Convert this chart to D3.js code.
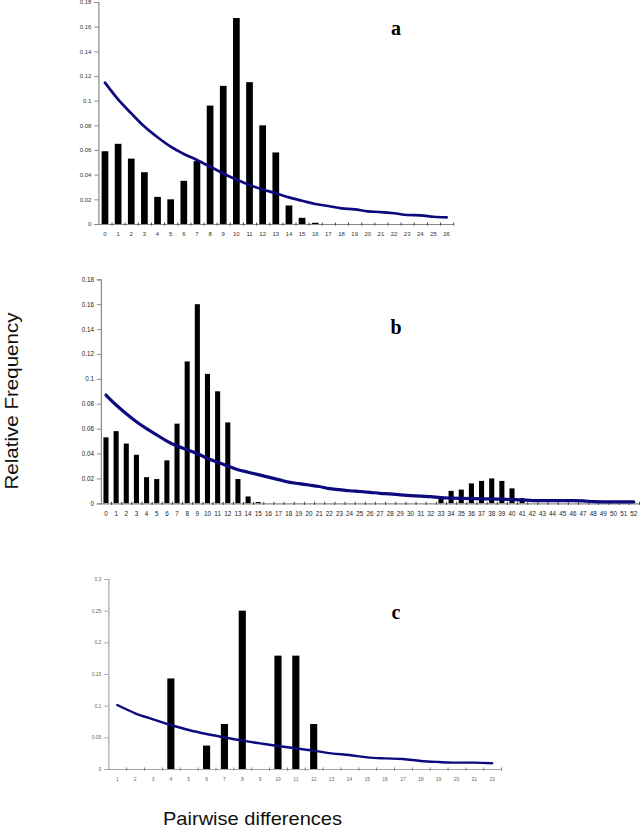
<!DOCTYPE html>
<html><head><meta charset="utf-8">
<script src="https://cdn.jsdelivr.net/npm/d3@7"></script>
<style>html,body{margin:0;padding:0;background:#fff;}svg{display:block;}</style>
</head><body>
<script>
// ---------- DATA ----------
const catsA = d3.range(0, 27);
const barsA = [0.059,0.065,0.053,0.042,0.022,0.020,0.035,0.051,0.096,0.112,0.167,0.115,0.080,0.058,0.015,0.005,0.001,0,0,0,0,0,0,0,0,0,0];
const curveA = [0.1146,0.101,0.0897,0.079,0.0703,0.0627,0.0568,0.0519,0.0465,0.041,0.036,0.0316,0.028,0.0249,0.0216,0.0189,0.0162,0.0146,0.0127,0.0119,0.0103,0.0097,0.0087,0.0073,0.0070,0.0059,0.0054];
const ticksA = [0,0.02,0.04,0.06,0.08,0.1,0.12,0.14,0.16,0.18];

const catsB = d3.range(0, 53);
const barsB = [0.053,0.058,0.048,0.039,0.021,0.0195,0.0345,0.064,0.114,0.160,0.104,0.090,0.065,0.0195,0.0055,0.001,
  0,0,0,0,0,0,0,0,0,0,0,0,0,0,0,0,0,
  0.004,0.010,0.011,0.016,0.018,0.020,0.018,0.012,0.004,
  0,0,0,0,0,0,0,0,0,0,0];
const curveB = [0.087,0.079,0.072,0.0656,0.060,0.055,0.050,0.046,0.043,0.040,0.036,0.033,0.030,0.027,0.025,0.023,0.021,0.019,0.017,0.0158,0.0147,0.0135,0.0118,0.011,0.0101,0.0095,0.0088,0.008,0.0075,0.0068,0.0062,0.0057,0.0053,0.0045,0.0042,0.0040,0.0038,0.0036,0.0035,0.0033,0.0030,0.0027,0.0022,0.0021,0.0021,0.0021,0.0021,0.0020,0.0013,0.0012,0.0012,0.0012,0.0012];
const ticksB = [0,0.02,0.04,0.06,0.08,0.1,0.12,0.14,0.16,0.18];

const catsC = d3.range(1, 23);
const barsC = [0,0,0,0.143,0,0.037,0.071,0.25,0,0.179,0.179,0.071,0,0,0,0,0,0,0,0,0,0];
const curveC = [0.101,0.088,0.0785,0.0695,0.0616,0.0553,0.050,0.0447,0.0405,0.0363,0.0326,0.029,0.0247,0.0221,0.0184,0.0168,0.0158,0.0126,0.011,0.010,0.010,0.009];
const ticksC = [0,0.05,0.1,0.15,0.2,0.25,0.3];

const letters = ["a","b","c"];

// ---------- LAYOUT ----------
const W = 640, H = 829;
const svg = d3.select("body").append("svg").attr("width", W).attr("height", H);

const panels = [
  {cats: catsA, bars: barsA, curve: curveA, ticks: ticksA, x0: 98.4, x1: 453.2, y0: 224, y1: 2, ymax: 0.18,
   pad: 0.49, axisCol: "#8a8a8a", labCol: "#333", fs: 6, lw: 2.7, letter: letters[0], lx: 396, ly: 35},
  {cats: catsB, bars: barsB, curve: curveB, ticks: ticksB, x0: 100.9, x1: 638.9, y0: 503.3, y1: 279.3, ymax: 0.18,
   pad: 0.5, axisCol: "#8a8a8a", labCol: "#222", fs: 6.3, lw: 3.2, letter: letters[1], lx: 396, ly: 334},
  {cats: catsC, bars: barsC, curve: curveC, ticks: ticksC, x0: 108.4, x1: 501.1, y0: 769, y1: 579, ymax: 0.3,
   pad: 0.6, axisCol: "#a8a8a8", labCol: "#666", fs: 5, lw: 2.4, letter: letters[2], lx: 396, ly: 619}
];

panels.forEach(p => {
  const g = svg.append("g");
  const x = d3.scaleBand().domain(p.cats).range([p.x0, p.x1]).paddingInner(p.pad).paddingOuter(p.pad/2);
  const xEdge = d3.scaleLinear().domain([0, p.cats.length]).range([p.x0, p.x1]);
  const y = d3.scaleLinear().domain([0, p.ymax]).range([p.y0, p.y1]);

  // y axis
  const ya = g.append("g").attr("transform", `translate(${p.x0},0)`)
    .call(d3.axisLeft(y).tickValues(p.ticks).tickSize(4).tickPadding(3).tickFormat(d => d3.format("")(+d.toFixed(2))));
  ya.select(".domain").attr("stroke", p.axisCol).attr("stroke-width", 1.2);
  ya.selectAll(".tick line").attr("stroke", p.axisCol);
  ya.selectAll(".tick text").attr("font-family", "Liberation Sans, Arial, sans-serif").attr("font-size", p.fs).attr("fill", p.labCol);

  // bars
  g.selectAll("rect.bar").data(p.cats.map((c, i) => ({c, v: p.bars[i]})).filter(d => d.v > 0))
    .enter().append("rect")
    .attr("x", d => x(d.c)).attr("width", x.bandwidth())
    .attr("y", d => y(d.v)).attr("height", d => p.y0 - y(d.v))
    .attr("fill", "#000");

  // x axis (labels)
  const xa = g.append("g").attr("transform", `translate(0,${p.y0})`)
    .call(d3.axisBottom(x).tickSize(0).tickPadding(8));
  xa.select(".domain").attr("stroke", p.axisCol).attr("stroke-width", 1.2);
  xa.selectAll(".tick text").attr("font-family", "Liberation Sans, Arial, sans-serif").attr("font-size", p.fs).attr("fill", p.labCol);

  // x tick marks at category edges
  const xt = g.append("g").attr("transform", `translate(0,${p.y0 - 1.5})`)
    .call(d3.axisBottom(xEdge).tickValues(d3.range(1, p.cats.length + 1)).tickSize(3).tickFormat(""));
  xt.select(".domain").remove();
  xt.selectAll(".tick line").attr("stroke", p.axisCol === "#a8a8a8" ? "#777" : "#444");

  // curve
  const line = d3.line().x((d, i) => x(p.cats[i]) + x.bandwidth() / 2).y(d => y(d)).curve(d3.curveMonotoneX);
  g.append("path").datum(p.curve).attr("d", line).attr("fill", "none")
    .attr("stroke", "#0d0a7e").attr("stroke-width", p.lw).attr("stroke-linejoin", "round").attr("stroke-linecap", "round");

  // panel letter
  g.append("text").attr("x", p.lx).attr("y", p.ly).attr("text-anchor", "middle")
    .attr("font-family", "Liberation Serif, Times New Roman, serif").attr("font-weight", "bold").attr("font-size", 20)
    .text(p.letter);
});

svg.append("text").attr("transform", "translate(17.5,401) rotate(-90)").attr("text-anchor", "middle")
  .attr("font-family", "Liberation Sans, Arial, sans-serif").attr("font-size", 18).attr("fill", "#111")
  .attr("textLength", 177).attr("lengthAdjust", "spacingAndGlyphs")
  .text("Relative Frequency");
svg.append("text").attr("x", 252.5).attr("y", 825).attr("text-anchor", "middle")
  .attr("font-family", "Liberation Sans, Arial, sans-serif").attr("font-size", 18.5).attr("fill", "#111")
  .attr("textLength", 179).attr("lengthAdjust", "spacingAndGlyphs")
  .text("Pairwise differences");
</script>
</body></html>
